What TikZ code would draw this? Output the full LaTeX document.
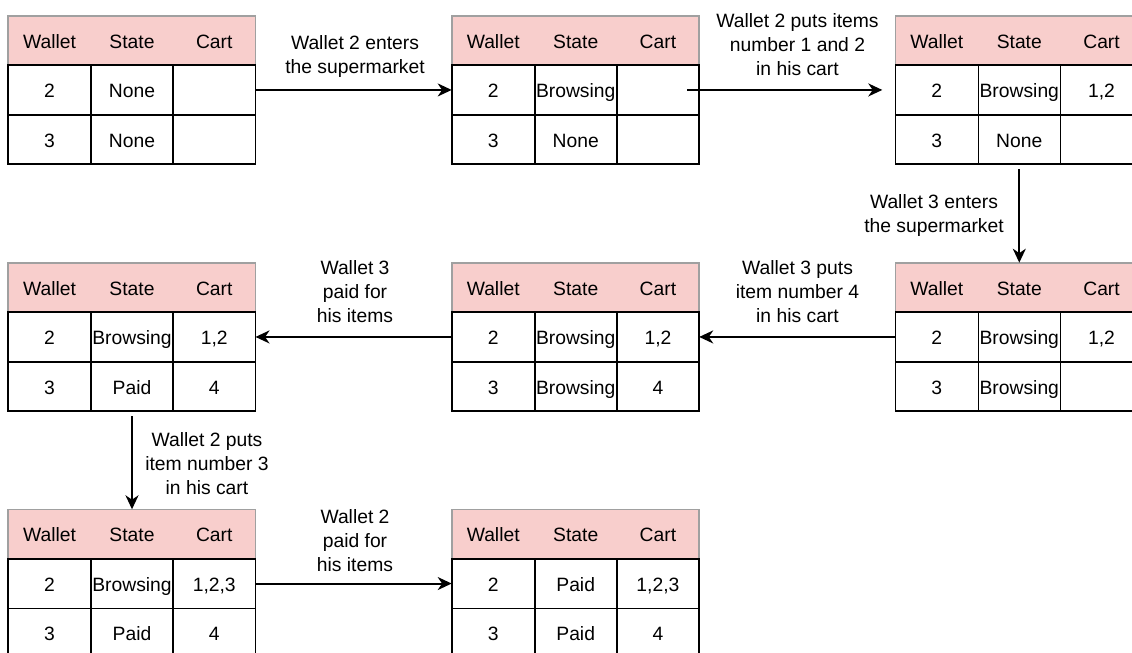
\documentclass[tikz,border=0pt]{standalone}
\usepackage{fontspec}
\setmainfont{Liberation Sans}
\usetikzlibrary{arrows.meta}
\definecolor{headpink}{HTML}{F8CECC}
\definecolor{headrule}{HTML}{A0A0A0}
\tikzset{
  cell/.style     = {draw=black,line width=0.8pt,anchor=north west,outer sep=0pt,inner sep=0pt,
                     minimum height=24.75pt,text height=7.6pt,text depth=0pt,
                     font=\fontsize{9.65}{12}\selectfont},
  wcol/.style     = {cell,minimum width=41.5pt},
  scol/.style     = {cell,minimum width=41pt},
  ccol/.style     = {cell,minimum width=41.25pt},
  headtext/.style = {draw=none},
  headbar/.style  = {draw=headrule,fill=headpink,line width=0.8pt,anchor=north west,outer sep=0pt,
                     inner sep=0pt,minimum width=123.75pt,minimum height=24.75pt},
  flowarr/.style  = {-{Stealth[length=7pt,width=6.5pt,inset=2.2pt]},line width=1pt},
  note/.style     = {align=center,inner sep=0pt,font=\fontsize{9.65}{12}\selectfont}
}
% #1 name, #2 top-left corner, #3/#4 state and cart of wallet 2, #5/#6 of wallet 3
\newcommand{\cartstate}[6]{%
  \node[headbar] (#1) at (#2) {};
  \node[wcol,headtext] (#1-hw) at (#1.north west) {Wallet};
  \node[scol,headtext] (#1-hs) at (#1-hw.north east) {State};
  \node[ccol,headtext] (#1-hc) at (#1-hs.north east) {Cart};
  \node[wcol] (#1-2w) at (#1-hw.south west) {2};
  \node[scol] (#1-2s) at (#1-2w.north east) {#3};
  \node[ccol] (#1-2c) at (#1-2s.north east) {#4};
  \node[wcol] (#1-3w) at (#1-2w.south west) {3};
  \node[scol] (#1-3s) at (#1-3w.north east) {#5};
  \node[ccol] (#1-3c) at (#1-3s.north east) {#6};
}

\begin{document}
\begin{tikzpicture}[x=0.5pt,y=-0.5pt]
  \clip (0,0) rectangle (1132,653);
  \fill[white] (0,0) rectangle (1132,653);

  \cartstate{s1}{8,15.7}{None}{}{None}{}
  \cartstate{s2}{451.7,15.7}{Browsing}{}{None}{}
  \cartstate{s3}{895.3,15.7}{Browsing}{1,2}{None}{}
  \cartstate{s4}{895.3,262.7}{Browsing}{1,2}{Browsing}{}
  \cartstate{s5}{451.7,262.7}{Browsing}{1,2}{Browsing}{4}
  \cartstate{s6}{8,262.7}{Browsing}{1,2}{Paid}{4}
  \cartstate{s7}{8,509.3}{Browsing}{1,2,3}{Paid}{4}
  \cartstate{s8}{451.7,509.3}{Paid}{1,2,3}{Paid}{4}

  \draw[flowarr] (s1-2c.east) -- (s2-2w.west);
  \draw[flowarr,shorten <=-6pt,shorten >=6.5pt] (s2-2c.east) -- (s3-2w.west);
  \draw[flowarr,shorten <=2.5pt] (s3-3s.south) -- (s4-hs.north);
  \draw[flowarr] (s4-2w.west) -- (s5-2c.east);
  \draw[flowarr] (s5-2w.west) -- (s6-2c.east);
  \draw[flowarr,shorten <=2.5pt] (s6-3s.south) -- (s7-hs.north);
  \draw[flowarr] (s7-2c.east) -- (s8-2w.west);

  \node[note] (n1) at (355,56.5) {Wallet 2 enters\\the supermarket};
  \node[note] (n2) at (797.5,45) {Wallet 2 puts items\\number 1 and 2\\in his cart};
  \node[note] (n3) at (934,216) {Wallet 3 enters\\the supermarket};
  \node[note] (n4) at (797.5,292) {Wallet 3 puts\\item number 4\\in his cart};
  \node[note] (n5) at (355,292) {Wallet 3\\paid for\\his items};
  \node[note] (n6) at (207,464) {Wallet 2 puts\\item number 3\\in his cart};
  \node[note] (n7) at (355,541) {Wallet 2\\paid for\\his items};
\end{tikzpicture}
\end{document}
